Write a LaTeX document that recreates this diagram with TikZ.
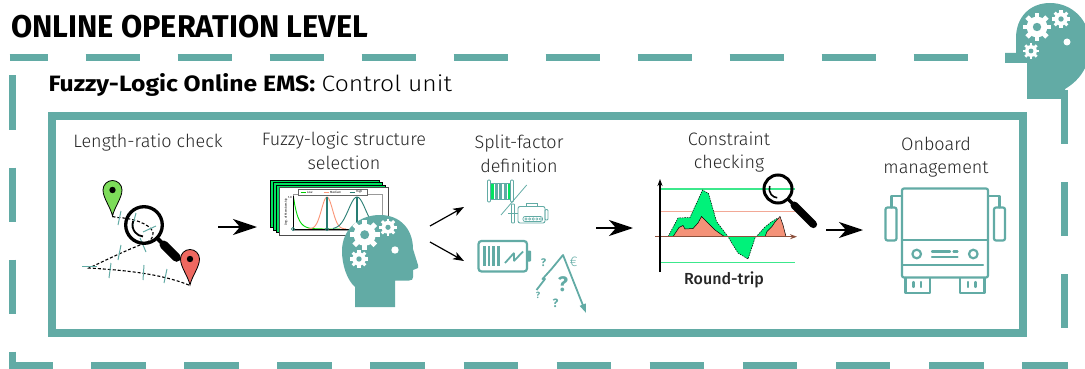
\documentclass[tikz,border=0pt]{standalone}
\usepackage{fontspec}
\usepackage{graphicx}
\setmainfont{Fira Sans}
\newfontfamily\lightfont{Fira Sans Light}
\newfontfamily\mediumfont{Fira Sans Medium}
\usetikzlibrary{arrows.meta}

\definecolor{tealc}{RGB}{98,171,165}
\definecolor{pingreen}{RGB}{125,220,90}
\definecolor{pinred}{RGB}{238,104,96}
\definecolor{sheetgreen}{RGB}{0,228,96}
\definecolor{areagreen}{RGB}{0,242,122}
\definecolor{linegreen}{RGB}{60,232,140}
\definecolor{salmonfill}{RGB}{244,146,120}
\definecolor{salmonline}{RGB}{242,168,150}
\definecolor{axisbrown}{RGB}{140,80,60}
\definecolor{darkteal}{RGB}{40,125,115}
\definecolor{curveorange}{RGB}{250,150,120}

\tikzset{
  frameline/.style={tealc, line width=6.5pt},
  flow/.style={black, line width=1.8pt, -{Stealth[length=24pt,width=16pt,inset=7pt]}},
  smallflow/.style={black, line width=1.2pt, -{Stealth[length=11pt,width=8pt,inset=3pt]}},
  steplabel/.style={font=\lightfont\fontsize{18}{24}\selectfont, inner sep=0pt, anchor=base, text=black!85},
  route/.style={black, line width=1.1pt, dash pattern=on 3pt off 2pt},
  tick/.style={tealc, line width=1pt},
  iconline/.style={tealc, line width=2.2pt, line cap=round, line join=round},
  qmark/.style={text=tealc, inner sep=0pt, font=\bfseries},
  pics/gear/.style={code={
    \fill[white] (0,0) circle[radius=0.74*#1];
    \foreach \a in {0,45,...,315}
      \fill[white,rotate=\a] (-0.17*#1,0) rectangle (0.17*#1,#1);
    \fill[tealc] (0,0) circle[radius=0.3*#1];
  }},
  pics/mappin/.style={code={
    \filldraw[fill=#1, draw=black, line width=0.8pt]
      (0,26) .. controls (-2,17) and (-9.5,8) .. (-9.5,0)
      .. controls (-9.5,-5.25) and (-5.25,-9.5) .. (0,-9.5)
      .. controls (5.25,-9.5) and (9.5,-5.25) .. (9.5,0)
      .. controls (9.5,8) and (2,17) .. cycle;
    \fill[black] (0,0) circle[radius=3.2];
  }}
}

\begin{document}
\begin{tikzpicture}[x=1pt,y=-1pt]
\useasboundingbox (0,0) rectangle (1085,369);

% ---------- outer dashed frame ----------
\draw[frameline, dash pattern=on 54pt off 38pt, dash phase=16pt] (9.5,57.5) -- (1040,57.5);
\draw[frameline, dash pattern=on 54pt off 38pt, dash phase=74pt] (12.5,57.5) -- (12.5,365.5) -- (52.5,365.5);
\draw[frameline, dash pattern=on 54.5pt off 38.6pt, dash phase=54.5pt] (52.5,365.5) -- (1067.5,365.5);
\draw[frameline, dash pattern=on 54pt off 38pt] (1064.5,90) -- (1064.5,330);

% ---------- head in the corner ----------
\fill[tealc] (1027,99) -- (1027,63) -- (1005,63) -- (1005,53) -- (1016,53) -- (1016,38)
  .. controls (1016,17) and (1030,3) .. (1050,3)
  .. controls (1072,3) and (1090,20) .. (1090,45)
  .. controls (1090,66) and (1080,80) .. (1065,89) -- (1065,99) -- cycle;
\pic at (1037,27) {gear=14};
\pic at (1061,19) {gear=9};
\pic at (1031,51) {gear=8};
\fill[white] (1067,42) circle[radius=3.5];

% ---------- titles ----------
\node[anchor=base west, inner sep=0pt] (title) at (11,37.3)
  {\resizebox{357pt}{22.3pt}{\bfseries ONLINE OPERATION LEVEL}};
\node[anchor=base west, inner sep=0pt] (subtitle) at (48.3,91.7)
  {\resizebox{403.5pt}{18pt}{{\bfseries Fuzzy-Logic Online EMS:} {\lightfont Control unit}}};

% ---------- inner solid frame ----------
\draw[tealc, line width=8pt] (52,116) rectangle (1023,333);

% ---------- step labels ----------
\node[steplabel] (lab1) at (148,147) {Length-ratio check};
\node[steplabel] (lab2a) at (344,145) {Fuzzy-logic structure};
\node[steplabel] (lab2b) at (344,169) {selection};
\node[steplabel] (lab3a) at (519,148) {Split-factor};
\node[steplabel] (lab3b) at (519,172) {definition};
\node[steplabel] (lab4a) at (729,145) {Constraint};
\node[steplabel] (lab4b) at (729,168) {checking};
\node[steplabel] (lab5a) at (936,150) {Onboard};
\node[steplabel] (lab5b) at (936,173) {management};

% ---------- step 1: route with pins and magnifier ----------
\draw[route] (112.5,216.5) -- (117,217.5) .. controls (133,218) and (150,224) .. (153,232)
  .. controls (154,238) and (150,241) .. (145,243)
  .. controls (122,252) and (102,262) .. (89,268)
  .. controls (120,270) and (160,273) .. (190,285.5);
\draw[tick] (121,211) -- (118,225);
\draw[tick] (136,213) -- (132,228);
\draw[tick] (143,232) -- (156,226);
\draw[tick] (140,238) -- (146,252);
\draw[tick] (121,245) -- (118,260);
\draw[tick] (82,266) -- (97,266);
\draw[tick] (111,263) -- (109,278);
\draw[tick] (144,265) -- (143,280);
\draw[tick] (167,269) -- (164,283);
\pic at (112.5,190) {mappin=pingreen};
\begin{scope}[shift={(144,225)}]
  \draw[black, line width=3.3pt] (0,0) circle[radius=18.3];
  \draw[black, line width=1.8pt] (200:11.5) arc[start angle=200, end angle=95, radius=11.5];
  \draw[black, line width=4pt] (45:19) -- (45:27);
  \draw[black, line width=8.5pt, line cap=round] (45:28) -- (45:46);
\end{scope}
\pic at (190,259) {mappin=pinred};

% ---------- step 2: chart windows and head ----------
\foreach \k in {3,2,1}
  \filldraw[fill=sheetgreen, draw=black, line width=0.6pt]
    (279-3*\k,187.5-2.5*\k) rectangle (388-3*\k,235-2.5*\k);
\filldraw[fill=white, draw=black!70, line width=0.6pt] (279,187.5) rectangle (388,235);
\draw[black!40, line width=0.4pt] (293,194) rectangle (382,230);
\draw[black!60, line width=0.4pt, fill=white] (298.5,189) rectangle (367.5,195);
\draw[green!80!black, line width=0.8pt] (300.5,192) -- (306,192);
\node[inner sep=0pt, anchor=west, font=\fontsize{3}{3}\selectfont] (lgLow) at (307,192) {Low};
\draw[curveorange, line width=0.8pt] (323.5,192) -- (329,192);
\node[inner sep=0pt, anchor=west, font=\fontsize{3}{3}\selectfont] (lgMed) at (330,192) {Medium};
\draw[darkteal, line width=0.8pt] (349.5,192) -- (355,192);
\node[inner sep=0pt, anchor=west, font=\fontsize{3}{3}\selectfont] (lgHigh) at (356,192) {High};
\node[inner sep=0pt, rotate=90, font=\fontsize{3}{3}\selectfont] (ylab) at (286,212) {Deg. of Membership};
\node[inner sep=0pt, anchor=east, font=\fontsize{3}{3}\selectfont] (ytick) at (292,197) {1.0};
\draw[green!85!black, line width=0.9pt] plot[domain=293.5:340, samples=40] (\x,{229-32*exp(-(\x-293.5)/4.5)});
\draw[curveorange, line width=0.9pt] plot[domain=308:346, samples=40] (\x,{229-32*exp(-((\x-327)^2)/(2*5.5*5.5))});
\draw[darkteal, line width=0.9pt] plot[domain=333:382, samples=40] (\x,{229-32*exp(-((\x-357)^2)/(2*8.5*8.5))});
\draw[darkteal, line width=1.3pt] (327,197) -- (327,229);
\draw[darkteal, line width=1.3pt] (357,197) -- (357,229);
\draw[black, line width=0.6pt] (293,196) -- (293,229) -- (382,229);
\draw[darkteal, line width=0.8pt] (293,229) circle[radius=1.6];
\draw[darkteal, line width=0.8pt] (327,229) circle[radius=1.6];
\begin{scope}[shift={(342,215)}]
  \fill[tealc] (13,92) -- (13,72) .. controls (5,65) and (0,50) .. (0,36)
    .. controls (0,14) and (17,0) .. (38,0) .. controls (58,0) and (71,14) .. (71,34)
    -- (76,50) -- (76,53) -- (71,55) -- (71,62) .. controls (71,64.5) and (70,65.5) .. (67,65.5)
    -- (53,65.5) -- (53,92) -- cycle;
  \pic at (22.7,19.7) {gear=15};
  \pic at (46,12.3) {gear=8.7};
  \pic at (17,44) {gear=9};
  \fill[white] (53,35) circle[radius=3.7];
\end{scope}

% ---------- step 3: split-factor icons ----------
% cable drum
\fill[sheetgreen] (490.5,183) rectangle (493.5,199);
\fill[tealc] (494.5,183) rectangle (497.5,199);
\fill[tealc] (499,183) rectangle (502,199);
\fill[tealc] (503.5,183) rectangle (506.5,199);
\fill[sheetgreen] (507.5,183) rectangle (510.5,199);
\draw[tealc, line width=0.7pt] (490.5,183) rectangle (510.5,199);
\draw[tealc, line width=0.9pt, rounded corners=1pt] (487.5,180) rectangle (490.5,202);
\draw[tealc, line width=0.9pt, rounded corners=1pt] (510.5,180) rectangle (513.5,202);
\draw[tealc, line width=0.8pt] (526.7,185) -- (501,215);
% motor
\draw[tealc, line width=0.9pt, rounded corners=0.8pt] (511.5,204) rectangle (514.5,223);
\draw[tealc, line width=1.2pt] (508,213.5) -- (518,213.5);
\draw[tealc, line width=0.9pt, rounded corners=2pt] (518,206.5) rectangle (545,223);
\draw[tealc, line width=0.9pt] (526,206.5) -- (526,203.5) -- (537,203.5) -- (537,206.5);
\draw[tealc, line width=0.9pt, rounded corners=1pt] (545,209.5) rectangle (548,220);
\draw[tealc, line width=0.7pt, rounded corners=2pt] (523,216.5) rectangle (542.5,221.5);
\foreach \i in {0,...,4} \draw[tealc, line width=0.5pt] (526+3.6*\i,219) circle[radius=1.2];
% battery
\draw[tealc, line width=2.2pt, rounded corners=3pt] (478.5,241) rectangle (527,271.5);
\fill[tealc, rounded corners=1pt] (527,250.5) rectangle (531,261.5);
\foreach \i in {0,...,3} \fill[tealc] (483+4.7*\i,246) rectangle (485.7+4.7*\i,266);
\draw[tealc, line width=1.8pt, line join=bevel] (505,263) -- (514,253) -- (514,261) -- (523,251.5);
% uncertain price path
\draw[tealc, line width=1.8pt, line join=round, -{Triangle[length=9pt,width=6pt]}]
  (536.5,290) -- (545,279) -- (542.5,279) -- (551.5,269) -- (563,255) -- (586,313);
\node[text=tealc, inner sep=0pt, font=\lightfont\fontsize{14}{14}\selectfont] (euro) at (573.5,262) {€};
\node[qmark, font=\bfseries\fontsize{11}{11}\selectfont] (q1) at (543.5,263) {?};
\node[qmark, font=\bfseries\fontsize{21}{21}\selectfont] (q2) at (563,284) {?};
\node[qmark, font=\bfseries\fontsize{9}{9}\selectfont] (q3) at (538,295.5) {?};
\node[qmark, font=\bfseries\fontsize{12}{12}\selectfont] (q4) at (555.5,303) {?};

% ---------- step 4: constraint chart ----------
\draw[linegreen, line width=1.3pt] (660,189) -- (795,189);
\draw[salmonline, line width=1.3pt] (660,211.7) -- (795,211.7);
\draw[linegreen, line width=1.3pt] (660,262.3) -- (795,262.3);
\filldraw[fill=areagreen, draw=black, line width=0.5pt, dash pattern=on 1.5pt off 1pt]
  (668,236.7) -- (678,218) -- (690,217.5) -- (702.5,190) -- (708.5,193.5) -- (716.5,221.5)
  -- (728,236.7) -- (733,245) -- (738,253) -- (748,259) -- (755,238) -- (765,227)
  -- (772,221.5) -- (777,218.5) -- (784,236.7) -- cycle;
\filldraw[fill=salmonfill, draw=black, line width=0.5pt]
  (673,236.7) -- (679,227.5) -- (683,225.5) -- (685,229) -- (693,228.5) -- (698,223)
  -- (701.5,216.5) -- (705,220) -- (710,225) -- (715,230) -- (722,235) -- (725,236.7) -- cycle;
\filldraw[fill=salmonfill, draw=black, line width=0.5pt]
  (765,236.7) -- (767,231.5) -- (772,226.5) -- (775,222) -- (780,216.5) -- (783,225) -- (786,236.7) -- cycle;
\draw[axisbrown, line width=1.3pt, -{Stealth[length=7pt,width=5pt]}] (655,236.7) -- (797,236.7);
\draw[black, line width=1.3pt, -{Stealth[length=7pt,width=5pt]}] (660,272) -- (660,179);
\begin{scope}[shift={(778,189)}]
  \draw[black, line width=3pt] (0,0) circle[radius=14];
  \draw[black, line width=1.6pt] (200:8.8) arc[start angle=200, end angle=95, radius=8.8];
  \draw[black, line width=3.5pt] (45:15) -- (45:22);
  \draw[black, line width=7.5pt, line cap=round] (45:23) -- (45:50);
\end{scope}
\node[inner sep=0pt, anchor=base, font=\mediumfont\fontsize{16}{16}\selectfont, text=black!85] (roundtrip) at (724,284) {Round-trip};

% ---------- step 5: bus ----------
\begin{scope}[iconline]
  \draw[rounded corners=2pt] (902,188.5) rectangle (988,277.5);
  \draw (902,240) -- (988,240);
  \draw (902,265) -- (983,265);
  \draw (916.7,254) circle[radius=4.3];
  \draw (973.3,254) circle[radius=4.3];
  \draw (932,251.5) -- (950,251.5);
  \draw (953.5,251.5) -- (957.5,251.5);
  \draw (932,257) -- (957.5,257);
  \draw (902,196) -- (891.5,196) -- (891.5,207.5);
  \draw[rounded corners=2pt] (885.5,207.5) rectangle (896.5,240.5);
  \draw (988,196) -- (999.5,196) -- (999.5,207.5);
  \draw[rounded corners=2pt] (994,207.5) rectangle (1005,240.5);
  \draw (905.5,278) -- (905.5,293) -- (930,293) -- (930,278);
  \draw (913.5,282) -- (913.5,287);
  \draw (921,282) -- (921,287);
  \draw (960,278) -- (960,293) -- (984.5,293) -- (984.5,278);
  \draw (968,282) -- (968,287);
  \draw (975.5,282) -- (975.5,287);
\end{scope}

% ---------- flow arrows ----------
\coordinate (a1s) at (218,227);  \coordinate (a1e) at (257,227);
\coordinate (a2s) at (430,226);  \coordinate (a2e) at (464,207);
\coordinate (a3s) at (430,242);  \coordinate (a3e) at (464,261);
\coordinate (a4s) at (596,228);  \coordinate (a4e) at (633,228);
\coordinate (a5s) at (826,230);  \coordinate (a5e) at (863,230);
\draw[flow] (a1s) -- (a1e);
\draw[smallflow] (a2s) -- (a2e);
\draw[smallflow] (a3s) -- (a3e);
\draw[flow] (a4s) -- (a4e);
\draw[flow] (a5s) -- (a5e);
\end{tikzpicture}
\end{document}
